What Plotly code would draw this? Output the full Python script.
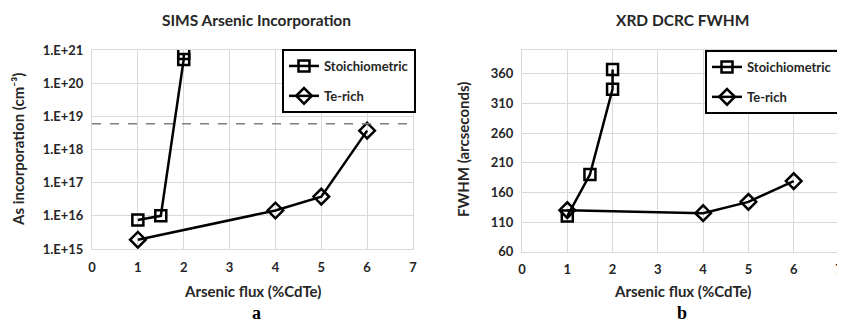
import plotly.graph_objects as go

# ---- data ----
stoich_flux_sims = [1, 1.5, 2, 2]
stoich_sims = [7.5e15, 1.0e16, 5.2e20, 7.8e20]
terich_flux_sims = [1, 4, 5, 6]
terich_sims = [1.9e15, 1.45e16, 3.8e16, 3.7e18]
threshold_sims = 6e18

stoich_flux_xrd = [1, 1.5, 2, 2]
stoich_xrd = [120, 190, 334, 367]
terich_flux_xrd = [1, 4, 5, 6]
terich_xrd = [130, 125, 144, 179]

sims_tickvals = [1e15, 1e16, 1e17, 1e18, 1e19, 1e20, 1e21]
sims_ticktext = ["1.E+15", "1.E+16", "1.E+17", "1.E+18", "1.E+19", "1.E+20", "1.E+21"]
xrd_tickvals = [60, 110, 160, 210, 260, 310, 360]
x_tickvals = [0, 1, 2, 3, 4, 5, 6, 7]

# page has 8px default body margin: lay out in window pixels, convert
W, H, OFF = 845, 322, 8
FW, FH = W - OFF, H - OFF


def px(x):
    return (x - OFF) / FW


def py(y):
    return 1 - (y - OFF) / FH


FONT = "Lato"
TXT = "#262626"
GRID = "#d9d9d9"

fig = go.Figure()

line_style = dict(color="black", width=2.5)
sq = dict(symbol="square-open", size=11, color="black", line=dict(width=2.5))
dm = dict(symbol="diamond-open", size=12, color="black", line=dict(width=2.5))

fig.add_trace(go.Scatter(x=stoich_flux_sims, y=stoich_sims, mode="lines+markers",
                         name="Stoichiometric", line=line_style, marker=sq,
                         xaxis="x", yaxis="y", legend="legend", legendgroup="a1"))
fig.add_trace(go.Scatter(x=terich_flux_sims, y=terich_sims, mode="lines+markers",
                         name="Te-rich", line=line_style, marker=dm,
                         xaxis="x", yaxis="y", legend="legend", legendgroup="a2"))
fig.add_trace(go.Scatter(x=[x_tickvals[0], x_tickvals[-1]], y=[threshold_sims, threshold_sims],
                         mode="lines", line=dict(color="#7f7f7f", width=1.5, dash="dash"),
                         showlegend=False, xaxis="x", yaxis="y", hoverinfo="skip"))

fig.add_trace(go.Scatter(x=stoich_flux_xrd, y=stoich_xrd, mode="lines+markers",
                         name="Stoichiometric", line=line_style, marker=sq,
                         xaxis="x2", yaxis="y2", legend="legend2", legendgroup="b1"))
fig.add_trace(go.Scatter(x=terich_flux_xrd, y=terich_xrd, mode="lines+markers",
                         name="Te-rich", line=line_style, marker=dm,
                         xaxis="x2", yaxis="y2", legend="legend2", legendgroup="b2"))

axfont = dict(family=FONT, size=13, color=TXT, weight="bold")
common_x = dict(range=[0, 7], tickvals=x_tickvals, showgrid=True, gridcolor=GRID,
                zeroline=False, showline=True, linecolor=GRID, mirror=True,
                tickfont=axfont, ticks="", fixedrange=True, automargin=False,
                ticklabelstandoff=6, ticklabeloverflow="allow")
common_y = dict(showgrid=True, gridcolor=GRID, zeroline=False, showline=True,
                linecolor=GRID, mirror=True, tickfont=axfont, ticks="", automargin=False,
                ticklabelstandoff=5, ticklabeloverflow="allow")

legend_common = dict(bgcolor="white", bordercolor="black", borderwidth=2,
                     font=dict(family=FONT, size=13, color=TXT, weight="bold"),
                     tracegroupgap=10, itemwidth=30, xanchor="left", yanchor="top",
                     entrywidth=86)

fig.update_layout(
    width=FW, height=FH, autosize=False,
    margin=dict(l=0, r=0, t=0, b=0, pad=0, autoexpand=False),
    paper_bgcolor="white", plot_bgcolor="white",
    font=dict(family=FONT, color=TXT),
    xaxis=dict(domain=[px(92), px(413)], anchor="y", **common_x),
    yaxis=dict(domain=[py(249), py(50)], anchor="x", type="log", range=[15, 21],
               tickvals=sims_tickvals, ticktext=sims_ticktext, **common_y),
    xaxis2=dict(domain=[px(522), px(839)], anchor="y2", **common_x),
    yaxis2=dict(domain=[py(251.7), py(50)], anchor="x2", range=[60, 400],
                tickvals=xrd_tickvals, **common_y),
    legend=dict(x=px(282), y=py(49), **legend_common),
    legend2=dict(x=px(705), y=py(50), **legend_common),
    showlegend=True,
)

ann = []
titlefont = dict(family=FONT, size=15.5, color=TXT, weight="bold")
lblfont = dict(family=FONT, size=15, color=TXT, weight="bold")
serif = dict(family="Liberation Serif", size=18, color="black", weight="bold")


def add(text, x, y, font, angle=0):
    ann.append(dict(text=text, x=px(x), y=py(y), xref="paper", yref="paper",
                    showarrow=False, font=font, textangle=angle,
                    xanchor="center", yanchor="middle"))


add("SIMS Arsenic Incorporation", 257, 20, titlefont)
add("XRD DCRC FWHM", 682, 20, titlefont)
add("Arsenic flux (%CdTe)", 252, 291, lblfont)
add("Arsenic flux (%CdTe)", 682, 291, lblfont)
add("As incorporation (cm⁻³)", 18, 150, lblfont, -90)
add("FWHM (arcseconds)", 463, 150, lblfont, -90)
add("a", 257, 313, serif)
add("b", 682, 313, serif)
fig.update_layout(annotations=ann)

fig.write_html("out.html")
